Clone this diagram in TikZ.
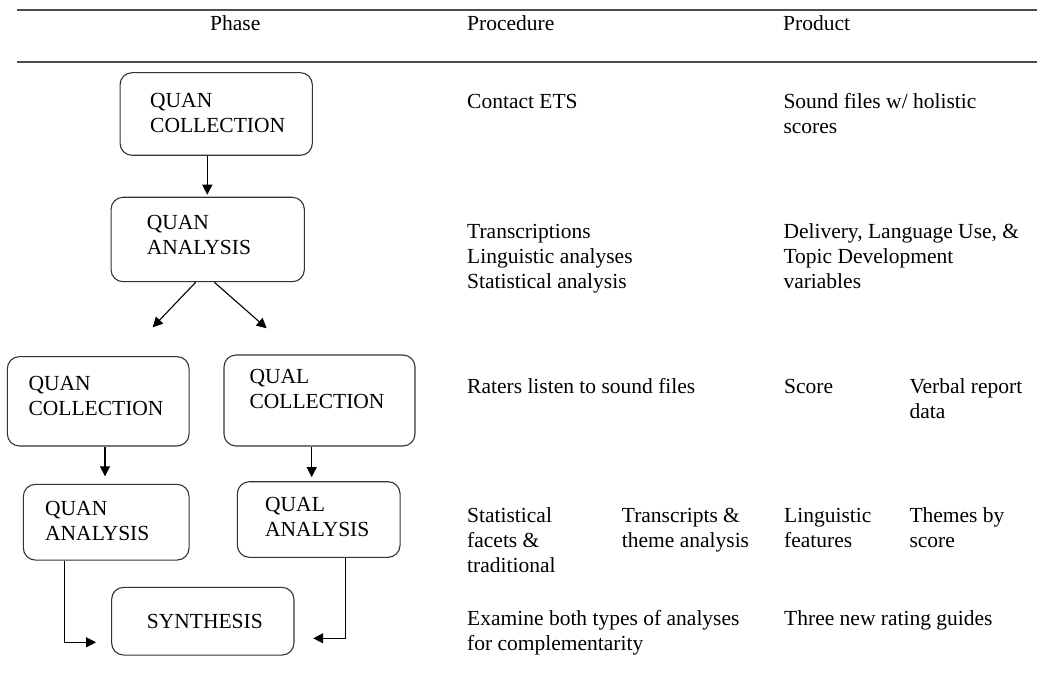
\documentclass[tikz,border=0pt]{standalone}
\usepackage{fontspec}
\setmainfont{Liberation Serif}
\usetikzlibrary{arrows.meta}
\begin{document}
\begin{tikzpicture}[x=1pt,y=-1pt,
  box/.style={draw=black!80, line width=1.1pt, rounded corners=12pt, inner sep=0pt, fill=white},
  txt/.style={anchor=base west, inner sep=0pt, align=left, font=\fontsize{21.5}{25}\selectfont},
  arr/.style={-{Triangle[length=10pt,width=10pt]}, line width=1.1pt, black},
  rulel/.style={line width=1.6pt, black!70}]
\useasboundingbox (0,0) rectangle (1037,679);
% header rules
\coordinate (r1a) at (17,10);   \coordinate (r1b) at (1037,10);
\coordinate (r2a) at (17,62.3); \coordinate (r2b) at (1037,62.3);
\draw[rulel] (r1a) -- (r1b);
\draw[rulel] (r2a) -- (r2b);
\node[txt] (hphase) at (210,30.5) {Phase};
\node[txt] (hproc) at (467,30.5) {Procedure};
\node[txt] (hprod) at (783,30.5) {Product};
% boxes
\node[box, minimum width=192.3pt, minimum height=82.6pt] (qc1) at (216.2,114) {};
\node[box, minimum width=193.3pt, minimum height=84.4pt] (qa1) at (207.7,239.5) {};
\node[box, minimum width=181.7pt, minimum height=89.3pt] (qc2) at (98.2,401.3) {};
\node[box, minimum width=191pt, minimum height=91pt] (lc) at (319.5,400.5) {};
\node[box, minimum width=165.7pt, minimum height=75.7pt] (qa2) at (106.2,522.2) {};
\node[box, minimum width=162.7pt, minimum height=75.6pt] (la) at (318.7,519.5) {};
\node[box, minimum width=182.3pt, minimum height=67.7pt] (syn) at (202.8,621.2) {};
% box texts (anchor = baseline of last line)
\node[txt] (tqc1) at (150,132.3) {QUAN\\COLLECTION};
\node[txt] (tqa1) at (146.7,255) {QUAN\\ANALYSIS};
\node[txt] (tqc2) at (28.3,415.7) {QUAN\\COLLECTION};
\node[txt] (tlc) at (249.3,408.3) {QUAL\\COLLECTION};
\node[txt] (tqa2) at (45,540) {QUAN\\ANALYSIS};
\node[txt] (tla) at (265,536.7) {QUAL\\ANALYSIS};
\node[txt] (tsyn) at (146.7,628.3) {SYNTHESIS};
% connectors
\draw[arr, shorten >=2pt] ([xshift=-8.9pt]qc1.south) -- ([xshift=-8.9pt]qc1.south |- qa1.north);
\coordinate (dl) at (152.7,327.3);
\coordinate (dr) at (266.7,328.3);
\draw[arr] ([xshift=-12pt]qa1.south) -- (dl);
\draw[arr] ([xshift=6.6pt]qa1.south) -- (dr);
\draw[arr, shorten >=7.5pt] ([xshift=6.8pt]qc2.south) -- ([xshift=6.8pt]qc2.south |- qa2.north);
\draw[arr, shorten >=4pt] ([xshift=-7.8pt]lc.south) -- ([xshift=-7.8pt]lc.south |- la.north);
\draw[arr] ([xshift=-41.9pt]qa2.south) |- ([xshift=-15pt,yshift=-21.1pt]syn.west);
\draw[arr] ([xshift=27pt]la.south) |- ([xshift=18.7pt,yshift=-17.1pt]syn.east);
% procedure / product texts
\node[txt] (p1) at (467,108.3) {Contact ETS};
\node[txt] (o1) at (783.3,133.3) {Sound files w/ holistic\\scores};
\node[txt] (p2) at (467,288.3) {Transcriptions\\Linguistic analyses\\Statistical analysis};
\node[txt] (o2) at (783.3,289) {Delivery, Language Use, \&\\Topic Development\\variables};
\node[txt] (p3) at (467,393.3) {Raters listen to sound files};
\node[txt] (o3a) at (784,393.3) {Score};
\node[txt] (o3b) at (909.3,418.3) {Verbal report\\data};
\node[txt] (p4a) at (467,572.3) {Statistical\\facets \&\\traditional};
\node[txt] (p4b) at (621.7,547.3) {Transcripts \&\\theme analysis};
\node[txt] (o4a) at (784,547.3) {Linguistic\\features};
\node[txt] (o4b) at (909.3,547.3) {Themes by\\score};
\node[txt] (p5) at (467,650) {Examine both types of analyses\\for complementarity};
\node[txt] (o5) at (784,625) {Three new rating guides};
\end{tikzpicture}
\end{document}
